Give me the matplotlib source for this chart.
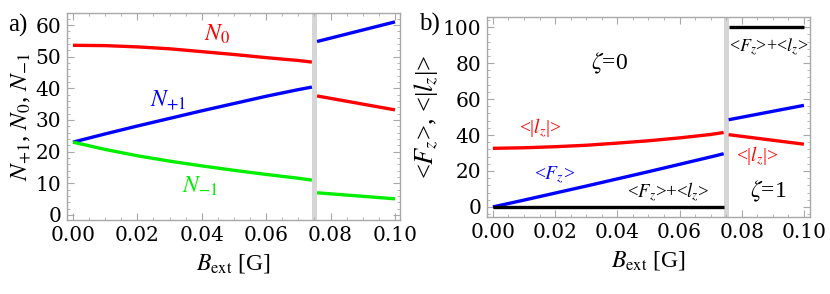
import numpy as np
import matplotlib.pyplot as plt
from matplotlib.ticker import MultipleLocator

plt.rcParams['font.family'] = 'serif'
plt.rcParams['font.serif'] = ['Liberation Serif', 'DejaVu Serif']
plt.rcParams['mathtext.fontset'] = 'stix'

# B_ext before / after the jump (gray band)
b1 = [0.0, 0.01, 0.02, 0.03, 0.04, 0.05, 0.06, 0.07, 0.0742]
b2 = [0.0758, 0.1]

# panel a) populations
n0_1 = [53.6, 53.5, 53.1, 52.5, 51.6, 50.7, 49.7, 48.8, 48.3]
np1_1 = [23.0, 25.6, 28.1, 30.5, 32.9, 35.2, 37.5, 39.6, 40.4]
nm1_1 = [23.0, 20.7, 18.7, 17.0, 15.5, 14.1, 12.8, 11.6, 11.0]
n0_2 = [37.6, 33.2]
np1_2 = [54.8, 61.0]
nm1_2 = [7.0, 5.1]

# panel b) <Fz>, <|lz|>, <Fz>+<lz>
fz_1 = [0.0, 3.8, 7.7, 11.6, 15.6, 19.6, 23.7, 27.8, 29.6]
lz_1 = [32.6, 32.9, 33.5, 34.3, 35.5, 36.8, 38.4, 40.3, 41.4]
tot_1 = [0, 0, 0, 0, 0, 0, 0, 0, 0]
fz_2 = [48.5, 56.5]
lz_2 = [40.2, 34.9]
tot_2 = [100, 100]

RED, BLUE, GREEN = '#ff0000', '#0000ff', '#00ee00'
lw = 2.4

fig = plt.figure(figsize=(8.3, 2.94), dpi=100)
ax1 = fig.add_axes([0.0807, 0.2517, 0.4012, 0.704])
ax2 = fig.add_axes([0.5867, 0.2619, 0.389, 0.680])


def style(ax):
    for s in ax.spines.values():
        s.set_color('#a8a8a8')
        s.set_linewidth(1.0)
    ax.xaxis.set_minor_locator(MultipleLocator(0.005))
    ax.tick_params(which='both', direction='in', top=True, right=True,
                   color='#a8a8a8', labelsize=14.5, labelcolor='black')
    ax.tick_params(which='major', length=5, width=0.8, pad=4)
    ax.tick_params(which='minor', length=2.5, width=0.6)
    ax.set_xticks([0, 0.02, 0.04, 0.06, 0.08, 0.10])
    ax.set_xticklabels(['0.00', '0.02', '0.04', '0.06', '0.08', '0.10'])
    ax.axvspan(0.0742, 0.0758, color='#d6d6d6', lw=0, zorder=1)
    ax.set_xlabel(r'$B_{\rm ext}$ [G]', fontsize=17, labelpad=5)


# --- panel a
style(ax1)
ax1.plot(b1, n0_1, color=RED, lw=lw, solid_capstyle='butt')
ax1.plot(b1, np1_1, color=BLUE, lw=lw, solid_capstyle='butt')
ax1.plot(b1, nm1_1, color=GREEN, lw=lw, solid_capstyle='butt')
ax1.plot(b2, n0_2, color=RED, lw=lw, solid_capstyle='butt')
ax1.plot(b2, np1_2, color=BLUE, lw=lw, solid_capstyle='butt')
ax1.plot(b2, nm1_2, color=GREEN, lw=lw, solid_capstyle='butt')
ax1.set_xlim(-0.00186, 0.10155)
ax1.set_ylim(-1.6, 63.8)
ax1.yaxis.set_major_locator(MultipleLocator(10))
ax1.yaxis.set_minor_locator(MultipleLocator(2))
ax1.set_ylabel(r'$N_{+1}$, $N_0$, $N_{-1}$', fontsize=18, labelpad=2)
ax1.text(0.0447, 57, r'$N_0$', color=RED, fontsize=17, ha='center', va='center')
ax1.text(0.0296, 36.3, r'$N_{+1}$', color=BLUE, fontsize=17, ha='center', va='center')
ax1.text(0.0394, 8.9, r'$N_{-1}$', color=GREEN, fontsize=17, ha='center', va='center')
fig.text(0.022, 0.915, 'a)', fontsize=18, ha='center', va='center')

# --- panel b
style(ax2)
ax2.plot(b1, lz_1, color=RED, lw=lw, solid_capstyle='butt')
ax2.plot(b1, fz_1, color=BLUE, lw=lw, solid_capstyle='butt')
ax2.plot(b1, tot_1, color='black', lw=lw, solid_capstyle='butt')
ax2.plot(b2, lz_2, color=RED, lw=lw, solid_capstyle='butt')
ax2.plot(b2, fz_2, color=BLUE, lw=lw, solid_capstyle='butt')
ax2.plot(b2, tot_2, color='black', lw=lw, solid_capstyle='butt')
ax2.set_xlim(-0.0019, 0.1019)
ax2.set_ylim(-5.6, 105.6)
ax2.yaxis.set_major_locator(MultipleLocator(20))
ax2.yaxis.set_minor_locator(MultipleLocator(4))
ax2.set_ylabel(r'<$F_z$>, <|$l_z$|>', fontsize=19, labelpad=2)
ax2.text(0.0376, 80, r'$\zeta$=0', fontsize=17, ha='center', va='center')
ax2.text(0.0884, 8.5, r'$\zeta$=1', fontsize=17, ha='center', va='center')
ax2.text(0.0563, 8, r'<$F_z$>+<$l_z$>', fontsize=13.5, ha='center', va='center')
ax2.text(0.0887, 89, r'<$F_z$>+<$l_z$>', fontsize=13, ha='center', va='center')
ax2.text(0.0151, 44, r'<|$l_z$|>', color=RED, fontsize=14, ha='center', va='center')
ax2.text(0.0849, 28.3, r'<|$l_z$|>', color=RED, fontsize=14, ha='center', va='center')
ax2.text(0.020, 17.8, r'<$F_z$>', color=BLUE, fontsize=14, ha='center', va='center')
fig.text(0.518, 0.918, 'b)', fontsize=18, ha='center', va='center')

for ax in (ax1, ax2):
    for t in ax.get_xticklabels() + ax.get_yticklabels():
        t.set_fontfamily('DejaVu Serif')

fig.savefig('out.png', dpi=100)
